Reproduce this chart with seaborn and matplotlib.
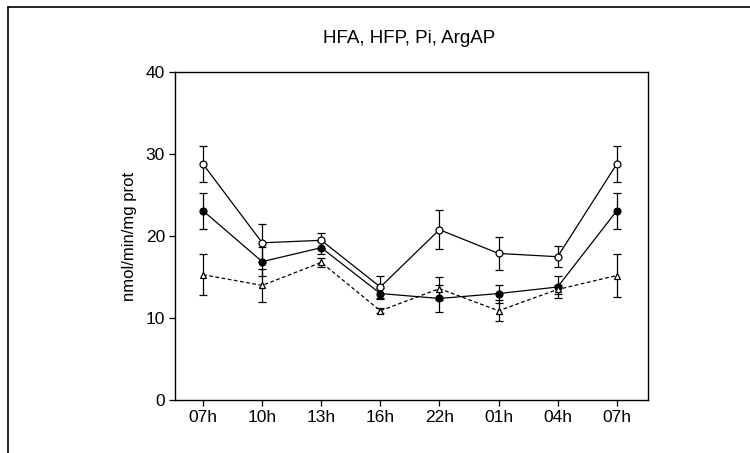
import matplotlib
matplotlib.use('Agg')
import matplotlib.pyplot as plt
import seaborn as sns
import pandas as pd
import numpy as np
from matplotlib.lines import Line2D

# Values (nmol/min/mg prot)
times = ['07h', '10h', '13h', '16h', '22h', '01h', '04h', '07h']
open_mean = [28.8, 19.2, 19.5, 13.8, 20.8, 17.9, 17.5, 28.8]
open_err = [2.2, 2.3, 0.9, 1.4, 2.4, 2.0, 1.3, 2.2]
filled_mean = [23.1, 16.9, 18.6, 13.0, 12.4, 13.0, 13.8, 23.1]
filled_err = [2.2, 1.8, 0.8, 0.7, 1.7, 1.1, 1.35, 2.2]
tri_mean = [15.3, 14.0, 16.8, 10.9, 13.6, 10.9, 13.5, 15.2]
tri_err = [2.5, 2.0, 0.6, 0.3, 1.4, 1.3, 0.6, 2.6]

sns.set_style('ticks')
plt.rcParams['font.family'] = ['Liberation Sans', 'DejaVu Sans']
plt.rcParams['text.color'] = 'black'
plt.rcParams['axes.labelcolor'] = 'black'
plt.rcParams['xtick.color'] = 'black'
plt.rcParams['ytick.color'] = 'black'

pos = list(range(len(times)))
df = pd.DataFrame({
    'pos': pos * 3,
    'value': open_mean + filled_mean + tri_mean,
    'err': open_err + filled_err + tri_err,
    'series': ['open'] * 8 + ['filled'] * 8 + ['tri'] * 8,
})

fig = plt.figure(figsize=(7.5, 4.53), dpi=100)
ax = fig.add_axes([0.233, 0.117, 0.631, 0.723])

styles = {
    'open': dict(marker='o', mfc='white', ls='-'),
    'filled': dict(marker='o', mfc='black', ls='-'),
    'tri': dict(marker='^', mfc='white', ls=(0, (3, 2))),
}

for name, st in styles.items():
    sub = df[df['series'] == name]
    ax.errorbar(sub['pos'], sub['value'], yerr=sub['err'], fmt='none',
                ecolor='black', elinewidth=0.9, capsize=3, capthick=0.9, zorder=2)
    sns.lineplot(x=sub['pos'], y=sub['value'], ax=ax, color='black', lw=0.9,
                 linestyle=st['ls'], marker=st['marker'], markersize=5,
                 markerfacecolor=st['mfc'], markeredgecolor='black',
                 markeredgewidth=0.9, zorder=3, legend=False)

ax.set_xlim(-0.48, 7.53)
ax.set_ylim(0, 40)
ax.set_yticks([0, 10, 20, 30, 40])
ax.set_xticks(pos)
ax.set_xticklabels(times)
ax.tick_params(axis='both', labelsize=12.5, length=4, width=0.9, pad=3)
ax.set_xlabel('')
ax.set_ylabel('nmol/min/mg prot', fontsize=12, labelpad=6)
for sp in ax.spines.values():
    sp.set_visible(True)
    sp.set_linewidth(1.0)
    sp.set_color('black')

fig.text(0.546, 0.915, 'HFA, HFP, Pi, ArgAP', ha='center', va='center', fontsize=13.5)

# scanned page border (left and top edges only)
fig.add_artist(Line2D([0.011, 0.011], [0.0, 0.984], color='black', lw=1.2,
                      transform=fig.transFigure))
fig.add_artist(Line2D([0.011, 1.0], [0.984, 0.984], color='black', lw=1.2,
                      transform=fig.transFigure))

fig.savefig('out.png', dpi=100)
